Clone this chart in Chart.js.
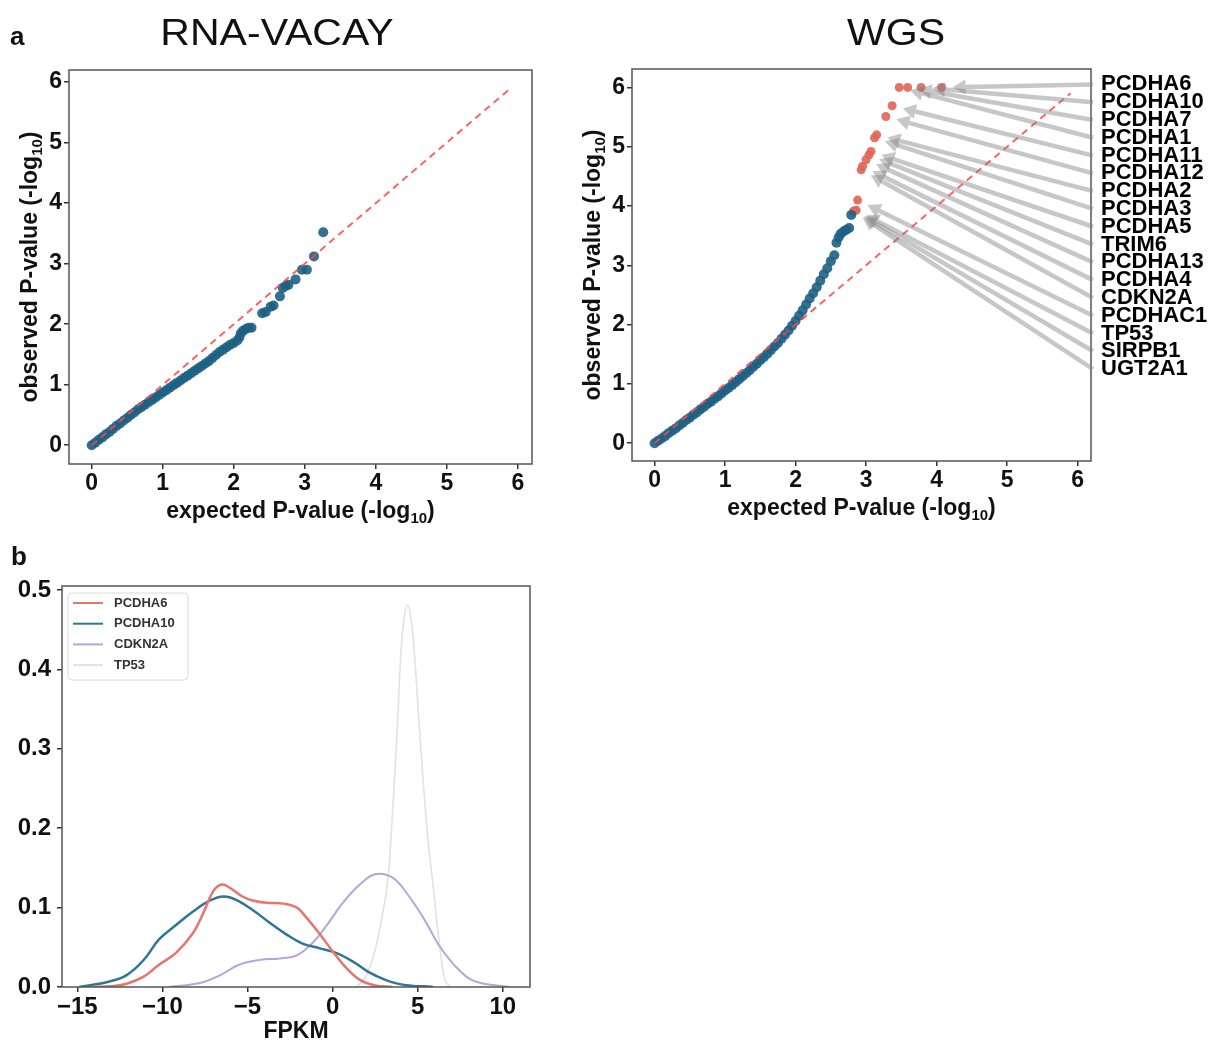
<!DOCTYPE html>
<html>
<head>
<meta charset="utf-8">
<title>QQ plots and FPKM density</title>
<script src="https://cdn.jsdelivr.net/npm/chart.js@4.4.0/dist/chart.umd.min.js"></script>
<style>
  body { margin: 0; background: #fff; }
  canvas { position: absolute; }
</style>
</head>
<body>
<canvas id="rna" width="560" height="530" style="left:0px;top:0px"></canvas>
<canvas id="wgs" width="654" height="530" style="left:560px;top:0px"></canvas>
<canvas id="dens" width="560" height="502" style="left:0px;top:540px"></canvas>
<script>
// panel a, RNA-VACAY qq points
const rnaExpected = [0, 0.05, 0.1, 0.15, 0.2, 0.25, 0.3, 0.35, 0.4, 0.45, 0.5, 0.55, 0.6, 0.65, 0.7, 0.75, 0.8, 0.85, 0.9, 0.95,
  1.0, 1.05, 1.1, 1.15, 1.2, 1.25, 1.3, 1.35, 1.4, 1.45, 1.5, 1.55, 1.6, 1.65, 1.7, 1.75, 1.8, 1.85, 1.9, 1.95,
  2.0, 2.05, 2.08, 2.1, 2.13, 2.17, 2.21, 2.25,
  2.4, 2.45, 2.52, 2.56, 2.65, 2.69, 2.73, 2.77, 2.87, 2.96, 3.03, 3.13, 3.26];
const rnaObserved = [0, 0.04, 0.09, 0.13, 0.18, 0.22, 0.27, 0.32, 0.36, 0.41, 0.45, 0.5, 0.54, 0.59, 0.63, 0.67, 0.71, 0.75, 0.79, 0.83,
  0.87, 0.91, 0.95, 0.99, 1.03, 1.07, 1.11, 1.15, 1.19, 1.23, 1.27, 1.31, 1.35, 1.39, 1.44, 1.49, 1.54, 1.58, 1.62, 1.66,
  1.69, 1.73, 1.78, 1.85, 1.89, 1.92, 1.94, 1.94,
  2.18, 2.2, 2.29, 2.31, 2.46, 2.6, 2.63, 2.65, 2.74, 2.9, 2.9, 3.12, 3.52];

// panel a, WGS qq points (not annotated)
const wgsExpected = [0, 0.05, 0.1, 0.15, 0.2, 0.25, 0.3, 0.35, 0.4, 0.45, 0.5, 0.55, 0.6, 0.65, 0.7, 0.75, 0.8, 0.85, 0.9, 0.95,
  1.0, 1.05, 1.1, 1.15, 1.2, 1.25, 1.3, 1.35, 1.4, 1.45, 1.5, 1.55, 1.6, 1.65, 1.7, 1.75, 1.8, 1.85, 1.9, 1.95,
  2.0, 2.05, 2.1, 2.15, 2.2, 2.25, 2.3, 2.35, 2.4, 2.45, 2.5, 2.55,
  2.58, 2.61, 2.64, 2.68, 2.72, 2.76, 2.79];
const wgsObserved = [0, 0.04, 0.08, 0.12, 0.17, 0.21, 0.25, 0.3, 0.34, 0.39, 0.43, 0.48, 0.52, 0.57, 0.61, 0.66, 0.7, 0.75, 0.79, 0.84,
  0.89, 0.93, 0.98, 1.03, 1.08, 1.13, 1.18, 1.23, 1.29, 1.34, 1.4, 1.45, 1.51, 1.57, 1.63, 1.69, 1.76, 1.83, 1.9, 1.98,
  2.06, 2.15, 2.24, 2.34, 2.44, 2.53, 2.63, 2.74, 2.85, 2.95, 3.07, 3.17,
  3.38, 3.47, 3.53, 3.57, 3.6, 3.63, 3.85];

// panel a, WGS annotated genes (red points)
const hitGenes = ['PCDHA6', 'PCDHA10', 'PCDHA7', 'PCDHA1', 'PCDHA11', 'PCDHA12', 'PCDHA2', 'PCDHA3', 'PCDHA5',
  'TRIM6', 'PCDHA13', 'PCDHA4', 'CDKN2A', 'PCDHAC1', 'TP53', 'SIRPB1', 'UGT2A1'];
const hitExpected = [4.07, 3.78, 3.59, 3.47, 3.37, 3.28, 3.15, 3.12, 3.07, 3.04, 3.0, 2.95, 2.93, 2.88, 2.86, 2.84, 2.82];
const hitObserved = [6.0, 6.0, 6.0, 6.0, 5.69, 5.51, 5.2, 5.15, 4.92, 4.86, 4.78, 4.67, 4.61, 4.1, 3.93, 3.92, 3.91];

const diagonal = [0, 5.9];
const qqTicks = [0, 1, 2, 3, 4, 5, 6];

// panel b, FPKM densities
const pcdha6X = [-14.1, -13, -12.1, -11.1, -10.2, -9.2, -8.2, -7.6, -7.0, -6.5, -6.05, -5.3, -4.7, -3.9, -2.9, -2.1, -1.6, -0.8, 0.0, 0.8, 1.6, 2.5, 3.5];
const pcdha6Y = [0, 0.001, 0.004, 0.013, 0.028, 0.043, 0.068, 0.093, 0.121, 0.129, 0.125, 0.114, 0.109, 0.106, 0.105, 0.1, 0.089, 0.068, 0.045, 0.024, 0.009, 0.002, 0];
const pcdha10X = [-14.9, -13.1, -12.1, -11.1, -10.2, -9.2, -8.2, -7.2, -6.4, -5.7, -4.7, -3.7, -2.7, -1.8, -0.8, 0.2, 1.2, 2.1, 3.1, 4.1, 5.9];
const pcdha10Y = [0, 0.007, 0.015, 0.034, 0.06, 0.078, 0.095, 0.109, 0.114, 0.11, 0.097, 0.081, 0.066, 0.055, 0.049, 0.043, 0.032, 0.019, 0.009, 0.003, 0];
const cdkn2aX = [-9.6, -7.8, -6.6, -5.5, -4.3, -3.1, -2.1, -1.2, -0.4, 0.6, 1.6, 2.5, 3.5, 4.5, 5.5, 6.3, 7.4, 8.4, 10.4];
const cdkn2aY = [0, 0.005, 0.015, 0.028, 0.034, 0.036, 0.04, 0.055, 0.076, 0.106, 0.129, 0.142, 0.138, 0.114, 0.081, 0.051, 0.022, 0.007, 0];
const tp53X = [1.4, 1.95, 2.5, 3.0, 3.24, 3.44, 3.73, 4.02, 4.2, 4.41, 4.6, 4.8, 5.2, 5.58, 5.88, 6.25, 6.6, 6.9];
const tp53Y = [0, 0.013, 0.047, 0.1, 0.133, 0.191, 0.296, 0.422, 0.465, 0.481, 0.465, 0.422, 0.296, 0.191, 0.133, 0.06, 0.009, 0];
const fpkmTicks = [-15, -10, -5, 0, 5, 10];
const densityTicks = [0, 0.1, 0.2, 0.3, 0.4, 0.5];

const FONT = "'Liberation Sans', Arial, Helvetica, sans-serif";
Chart.defaults.font.family = FONT;
Chart.defaults.color = '#111';

let toPoints = function(xs, ys) {
  return xs.map((x, i) => ({x: x, y: ys[i]}));
};

let axis = function(min, max, ticks, size, fontSize, pad, fmt) {
  return {
    type: 'linear',
    min: min,
    max: max,
    afterBuildTicks: s => { s.ticks = ticks.map(v => ({value: v})); },
    afterFit: s => { if (s.isHorizontal()) s.height = size; else s.width = size; },
    grid: {drawOnChartArea: false, drawTicks: true, tickLength: 5, color: '#333', lineWidth: 1.5},
    border: {display: false},
    ticks: {font: {size: fontSize, weight: 'bold'}, color: '#111', padding: pad, maxRotation: 0, autoSkip: false, callback: fmt}
  };
};

// text made of parts, centred on (cx, cy), used for labels with a subscript
let drawParts = function(ctx, parts, cx, cy, angle) {
  ctx.save();
  ctx.translate(cx, cy);
  ctx.rotate(angle || 0);
  let w = 0;
  parts.forEach(p => { ctx.font = p.font; w += ctx.measureText(p.text).width; });
  let x = -w / 2;
  ctx.textBaseline = 'alphabetic';
  ctx.textAlign = 'left';
  ctx.fillStyle = '#111';
  parts.forEach(p => {
    ctx.font = p.font;
    ctx.fillText(p.text, x, 8 + (p.dy || 0));
    x += ctx.measureText(p.text).width;
  });
  ctx.restore();
};

let logLabel = function(main) {
  return [
    {text: main + ' (-log', font: 'bold 23px ' + FONT},
    {text: '10', font: 'bold 15px ' + FONT, dy: 5},
    {text: ')', font: 'bold 23px ' + FONT}
  ];
};

let framePlugin = {
  id: 'frame',
  afterDatasetsDraw(chart) {
    let a = chart.chartArea, ctx = chart.ctx;
    ctx.save();
    ctx.strokeStyle = '#555';
    ctx.lineWidth = 1.5;
    ctx.strokeRect(a.left, a.top, a.right - a.left, a.bottom - a.top);
    ctx.restore();
  }
};

let qqLabels = {
  id: 'qqLabels',
  afterDraw(chart) {
    let a = chart.chartArea, ctx = chart.ctx;
    drawParts(ctx, logLabel('expected P-value'), (a.left + a.right) / 2, a.bottom + 46, 0);
    drawParts(ctx, logLabel('observed P-value'), a.left - 40, (a.top + a.bottom) / 2, -Math.PI / 2);
  }
};

let headings = function(items) {
  return {
    id: 'headings',
    afterDraw(chart) {
      let ctx = chart.ctx;
      items.forEach(it => {
        ctx.save();
        ctx.translate(it.x, it.y);
        ctx.scale(it.stretch || 1, 1);
        ctx.font = it.font;
        ctx.fillStyle = '#111';
        ctx.textAlign = it.align;
        ctx.textBaseline = 'alphabetic';
        ctx.fillText(it.text, 0, 0);
        ctx.restore();
      });
    }
  };
};

let geneArrows = {
  id: 'geneArrows',
  afterDatasetsDraw(chart) {
    let a = chart.chartArea, ctx = chart.ctx;
    let xs = chart.scales.x, ys = chart.scales.y;
    ctx.save();
    ctx.strokeStyle = 'rgba(130,130,130,0.45)';
    ctx.fillStyle = 'rgba(130,130,130,0.45)';
    ctx.lineWidth = 4.5;
    hitGenes.forEach((gene, i) => {
      let tx = a.right + 2;
      let ty = ys.getPixelForValue(6.05 - 0.3 * i);
      let px = xs.getPixelForValue(hitExpected[i]);
      let py = ys.getPixelForValue(hitObserved[i]);
      let dx = tx - px, dy = ty - py, len = Math.hypot(dx, dy);
      let ux = dx / len, uy = dy / len;
      let hx = px + ux * 11, hy = py + uy * 11;
      let bx = hx + ux * 13, by = hy + uy * 13;
      ctx.beginPath();
      ctx.moveTo(tx, ty);
      ctx.lineTo(bx, by);
      ctx.stroke();
      ctx.beginPath();
      ctx.moveTo(hx, hy);
      ctx.lineTo(bx - uy * 7.5, by + ux * 7.5);
      ctx.lineTo(bx + uy * 7.5, by - ux * 7.5);
      ctx.closePath();
      ctx.fill();
    });
    ctx.fillStyle = '#000';
    ctx.font = 'bold 22px ' + FONT;
    ctx.textBaseline = 'middle';
    ctx.textAlign = 'left';
    hitGenes.forEach((gene, i) => {
      ctx.fillText(gene, a.right + 10, ys.getPixelForValue(6.05 - 0.3 * i));
    });
    ctx.restore();
  }
};

let boxLegend = {
  id: 'boxLegend',
  afterDraw(chart) {
    let a = chart.chartArea, ctx = chart.ctx;
    let x0 = a.left + 6, y0 = a.top + 7;
    ctx.save();
    ctx.fillStyle = 'rgba(255,255,255,0.9)';
    ctx.strokeStyle = '#dadada';
    ctx.lineWidth = 1;
    ctx.beginPath();
    ctx.roundRect(x0, y0, 120, 87, 4);
    ctx.fill();
    ctx.stroke();
    chart.data.datasets.forEach((ds, i) => {
      let y = y0 + 10 + i * 20.7;
      ctx.strokeStyle = ds.borderColor;
      ctx.lineWidth = 2;
      ctx.beginPath();
      ctx.moveTo(x0 + 5, y);
      ctx.lineTo(x0 + 35, y);
      ctx.stroke();
      ctx.fillStyle = '#333';
      ctx.font = 'bold 13px ' + FONT;
      ctx.textBaseline = 'middle';
      ctx.fillText(ds.label, x0 + 46, y);
    });
    ctx.restore();
  }
};

let diagDataset = function() {
  return {
    data: toPoints(diagonal, diagonal),
    showLine: true,
    borderColor: 'rgba(255,70,70,0.85)',
    borderWidth: 2,
    borderDash: [7, 5],
    pointRadius: 0,
    order: 0
  };
};

let qqFmt = v => String(v);

new Chart(document.getElementById('rna'), {
  type: 'scatter',
  data: {
    datasets: [
      diagDataset(),
      {data: toPoints(rnaExpected, rnaObserved), backgroundColor: 'rgba(30,96,132,0.9)', borderWidth: 0, pointRadius: 5, order: 1}
    ]
  },
  options: {
    responsive: false,
    animation: false,
    layout: {autoPadding: false, padding: {left: 0, top: 70, right: 28, bottom: 0}},
    plugins: {legend: {display: false}, tooltip: {enabled: false}},
    scales: {
      x: axis(-0.32, 6.2, qqTicks, 66, 23, 1, qqFmt),
      y: axis(-0.31, 6.2, qqTicks, 69, 23, 2, qqFmt)
    }
  },
  plugins: [framePlugin, qqLabels, headings([
    {text: 'a', x: 10, y: 45, font: 'bold 26px ' + FONT, align: 'left'},
    {text: 'RNA-VACAY', x: 277, y: 45, font: '36px ' + FONT, align: 'center', stretch: 1.14}
  ])]
});

new Chart(document.getElementById('wgs'), {
  type: 'scatter',
  data: {
    datasets: [
      diagDataset(),
      {data: toPoints(wgsExpected, wgsObserved), backgroundColor: 'rgba(30,96,132,0.9)', borderWidth: 0, pointRadius: 5, order: 1},
      {data: toPoints(hitExpected, hitObserved), backgroundColor: 'rgba(222,104,88,0.92)', borderWidth: 0, pointRadius: 4.5, order: 1}
    ]
  },
  options: {
    responsive: false,
    animation: false,
    layout: {autoPadding: false, padding: {left: 0, top: 69, right: 123, bottom: 0}},
    plugins: {legend: {display: false}, tooltip: {enabled: false}},
    scales: {
      x: axis(-0.32, 6.19, qqTicks, 69, 23, 1, qqFmt),
      y: axis(-0.30, 6.31, qqTicks, 72, 23, 2, qqFmt)
    }
  },
  plugins: [framePlugin, qqLabels, geneArrows, headings([
    {text: 'WGS', x: 336, y: 45, font: '36px ' + FONT, align: 'center', stretch: 1.14}
  ])]
});

let densLine = function(label, xs, ys, color, width) {
  return {
    label: label,
    data: toPoints(xs, ys),
    showLine: true,
    borderColor: color,
    borderWidth: width,
    pointRadius: 0,
    tension: 0.4
  };
};

new Chart(document.getElementById('dens'), {
  type: 'scatter',
  data: {
    datasets: [
      densLine('PCDHA6', pcdha6X, pcdha6Y, '#e5766a', 2.5),
      densLine('PCDHA10', pcdha10X, pcdha10Y, '#2e7596', 2.5),
      densLine('CDKN2A', cdkn2aX, cdkn2aY, '#b3a6dc', 2),
      densLine('TP53', tp53X, tp53Y, '#e2e2e2', 1.6)
    ]
  },
  options: {
    responsive: false,
    animation: false,
    layout: {autoPadding: false, padding: {left: 0, top: 46, right: 30, bottom: 0}},
    plugins: {legend: {display: false}, tooltip: {enabled: false}},
    scales: {
      x: axis(-15.9, 11.6, fpkmTicks, 55, 24, 1, v => v < 0 ? '\u2212' + Math.abs(v) : String(v)),
      y: axis(0, 0.505, densityTicks, 62, 24, 6, v => v.toFixed(1))
    }
  },
  plugins: [framePlugin, boxLegend, {
    id: 'fpkmLabel',
    afterDraw(chart) {
      let a = chart.chartArea;
      drawParts(chart.ctx, [{text: 'FPKM', font: 'bold 23px ' + FONT}], (a.left + a.right) / 2, a.bottom + 43, 0);
    }
  }, headings([
    {text: 'b', x: 11, y: 25, font: 'bold 26px ' + FONT, align: 'left'}
  ])]
});
</script>
</body>
</html>
